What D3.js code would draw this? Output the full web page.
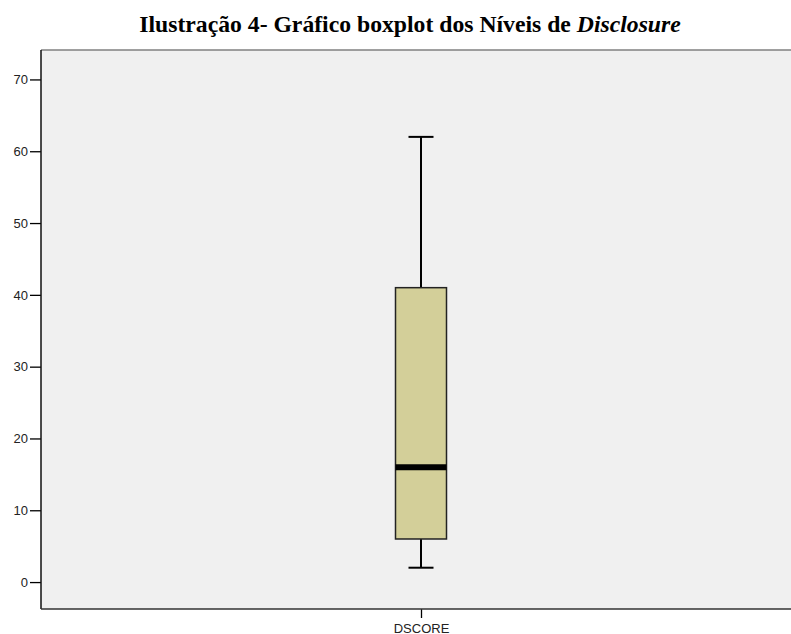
<!DOCTYPE html>
<html>
<head>
<meta charset="utf-8">
<script src="https://d3js.org/d3.v7.min.js"></script>
<style>
body { margin: 0; background: #fff; }
svg { display: block; }
.title { font-family: "Liberation Serif", "Times New Roman", serif; font-weight: bold; font-size: 23.7px; }
.tick text { font-family: "Liberation Sans", Arial, sans-serif; font-size: 13px; fill: #222; }
</style>
</head>
<body>
<svg id="chart"></svg>
<script>
// boxplot stats
var categories = ["DSCORE"];
var whiskerLow = [2];
var q1 = [6];
var median = [16];
var q3 = [41];
var whiskerHigh = [62];
var yTicks = [0, 10, 20, 30, 40, 50, 60, 70];

var width = 791, height = 634;
var plot = { left: 41, top: 50, right: 791, bottom: 609 };

var svg = d3.select('#chart').attr('width', width).attr('height', height);

// title, last word in italics
var title = svg.append('text')
    .attr('class', 'title')
    .attr('x', 410)
    .attr('y', 32)
    .attr('text-anchor', 'middle');
title.append('tspan').text('Ilustração 4- Gráfico boxplot dos Níveis de ');
title.append('tspan').attr('font-style', 'italic').text('Disclosure');

var y = d3.scaleLinear().domain([-3.75, 74.1]).range([plot.bottom, plot.top]);
var x = d3.scaleBand().domain(categories).range([plot.left, 802]).paddingInner(0).paddingOuter(0);

// plot background
svg.append('rect')
    .attr('x', plot.left).attr('y', plot.top)
    .attr('width', plot.right - plot.left).attr('height', plot.bottom - plot.top)
    .attr('fill', '#f0f0f0');
svg.append('line')
    .attr('x1', plot.left).attr('x2', plot.right)
    .attr('y1', plot.top).attr('y2', plot.top)
    .attr('stroke', '#808080').attr('stroke-width', 1.5);

// y axis
var yAxis = svg.append('g')
    .attr('transform', 'translate(' + plot.left + ',0)')
    .call(d3.axisLeft(y).tickValues(yTicks).tickSize(11).tickPadding(2));
yAxis.select('.domain').remove();
yAxis.selectAll('.tick line').attr('stroke', '#000').attr('stroke-width', 1.3);
svg.append('line')
    .attr('x1', plot.left).attr('x2', plot.left)
    .attr('y1', plot.top).attr('y2', plot.bottom)
    .attr('stroke', '#111').attr('stroke-width', 1.5);

// x axis
var xAxis = svg.append('g')
    .attr('transform', 'translate(0,' + plot.bottom + ')')
    .call(d3.axisBottom(x).tickSize(9).tickPadding(6));
xAxis.select('.domain').remove();
xAxis.selectAll('.tick line').attr('stroke', '#000').attr('stroke-width', 1.3);
svg.append('line')
    .attr('x1', plot.left).attr('x2', plot.right)
    .attr('y1', plot.bottom).attr('y2', plot.bottom)
    .attr('stroke', '#333').attr('stroke-width', 1.5);

var boxW = 51, capW = 25;
var boxes = svg.append('g').selectAll('g')
    .data(categories.map(function (c, i) {
        return { name: c, lo: whiskerLow[i], q1: q1[i], med: median[i], q3: q3[i], hi: whiskerHigh[i] };
    }))
    .enter().append('g');

function cx(d) { return x(d.name) + x.bandwidth() / 2 - 0.5; }

// whiskers
boxes.append('line')
    .attr('x1', cx).attr('x2', cx)
    .attr('y1', function (d) { return y(d.hi); })
    .attr('y2', function (d) { return y(d.lo); })
    .attr('stroke', '#000').attr('stroke-width', 2);
boxes.selectAll('.cap').data(function (d) { return [d.hi, d.lo].map(function (v) { return { c: cx(d), v: v }; }); })
    .enter().append('line')
    .attr('class', 'cap')
    .attr('x1', function (d) { return d.c - capW / 2; })
    .attr('x2', function (d) { return d.c + capW / 2; })
    .attr('y1', function (d) { return y(d.v); })
    .attr('y2', function (d) { return y(d.v); })
    .attr('stroke', '#000').attr('stroke-width', 2);

// box
boxes.append('rect')
    .attr('x', function (d) { return cx(d) - boxW / 2; })
    .attr('y', function (d) { return y(d.q3); })
    .attr('width', boxW)
    .attr('height', function (d) { return y(d.q1) - y(d.q3); })
    .attr('fill', '#d3cf99')
    .attr('stroke', '#222').attr('stroke-width', 1.5);

// median
boxes.append('line')
    .attr('x1', function (d) { return cx(d) - boxW / 2; })
    .attr('x2', function (d) { return cx(d) + boxW / 2; })
    .attr('y1', function (d) { return y(d.med); })
    .attr('y2', function (d) { return y(d.med); })
    .attr('stroke', '#000').attr('stroke-width', 6);
</script>
</body>
</html>
